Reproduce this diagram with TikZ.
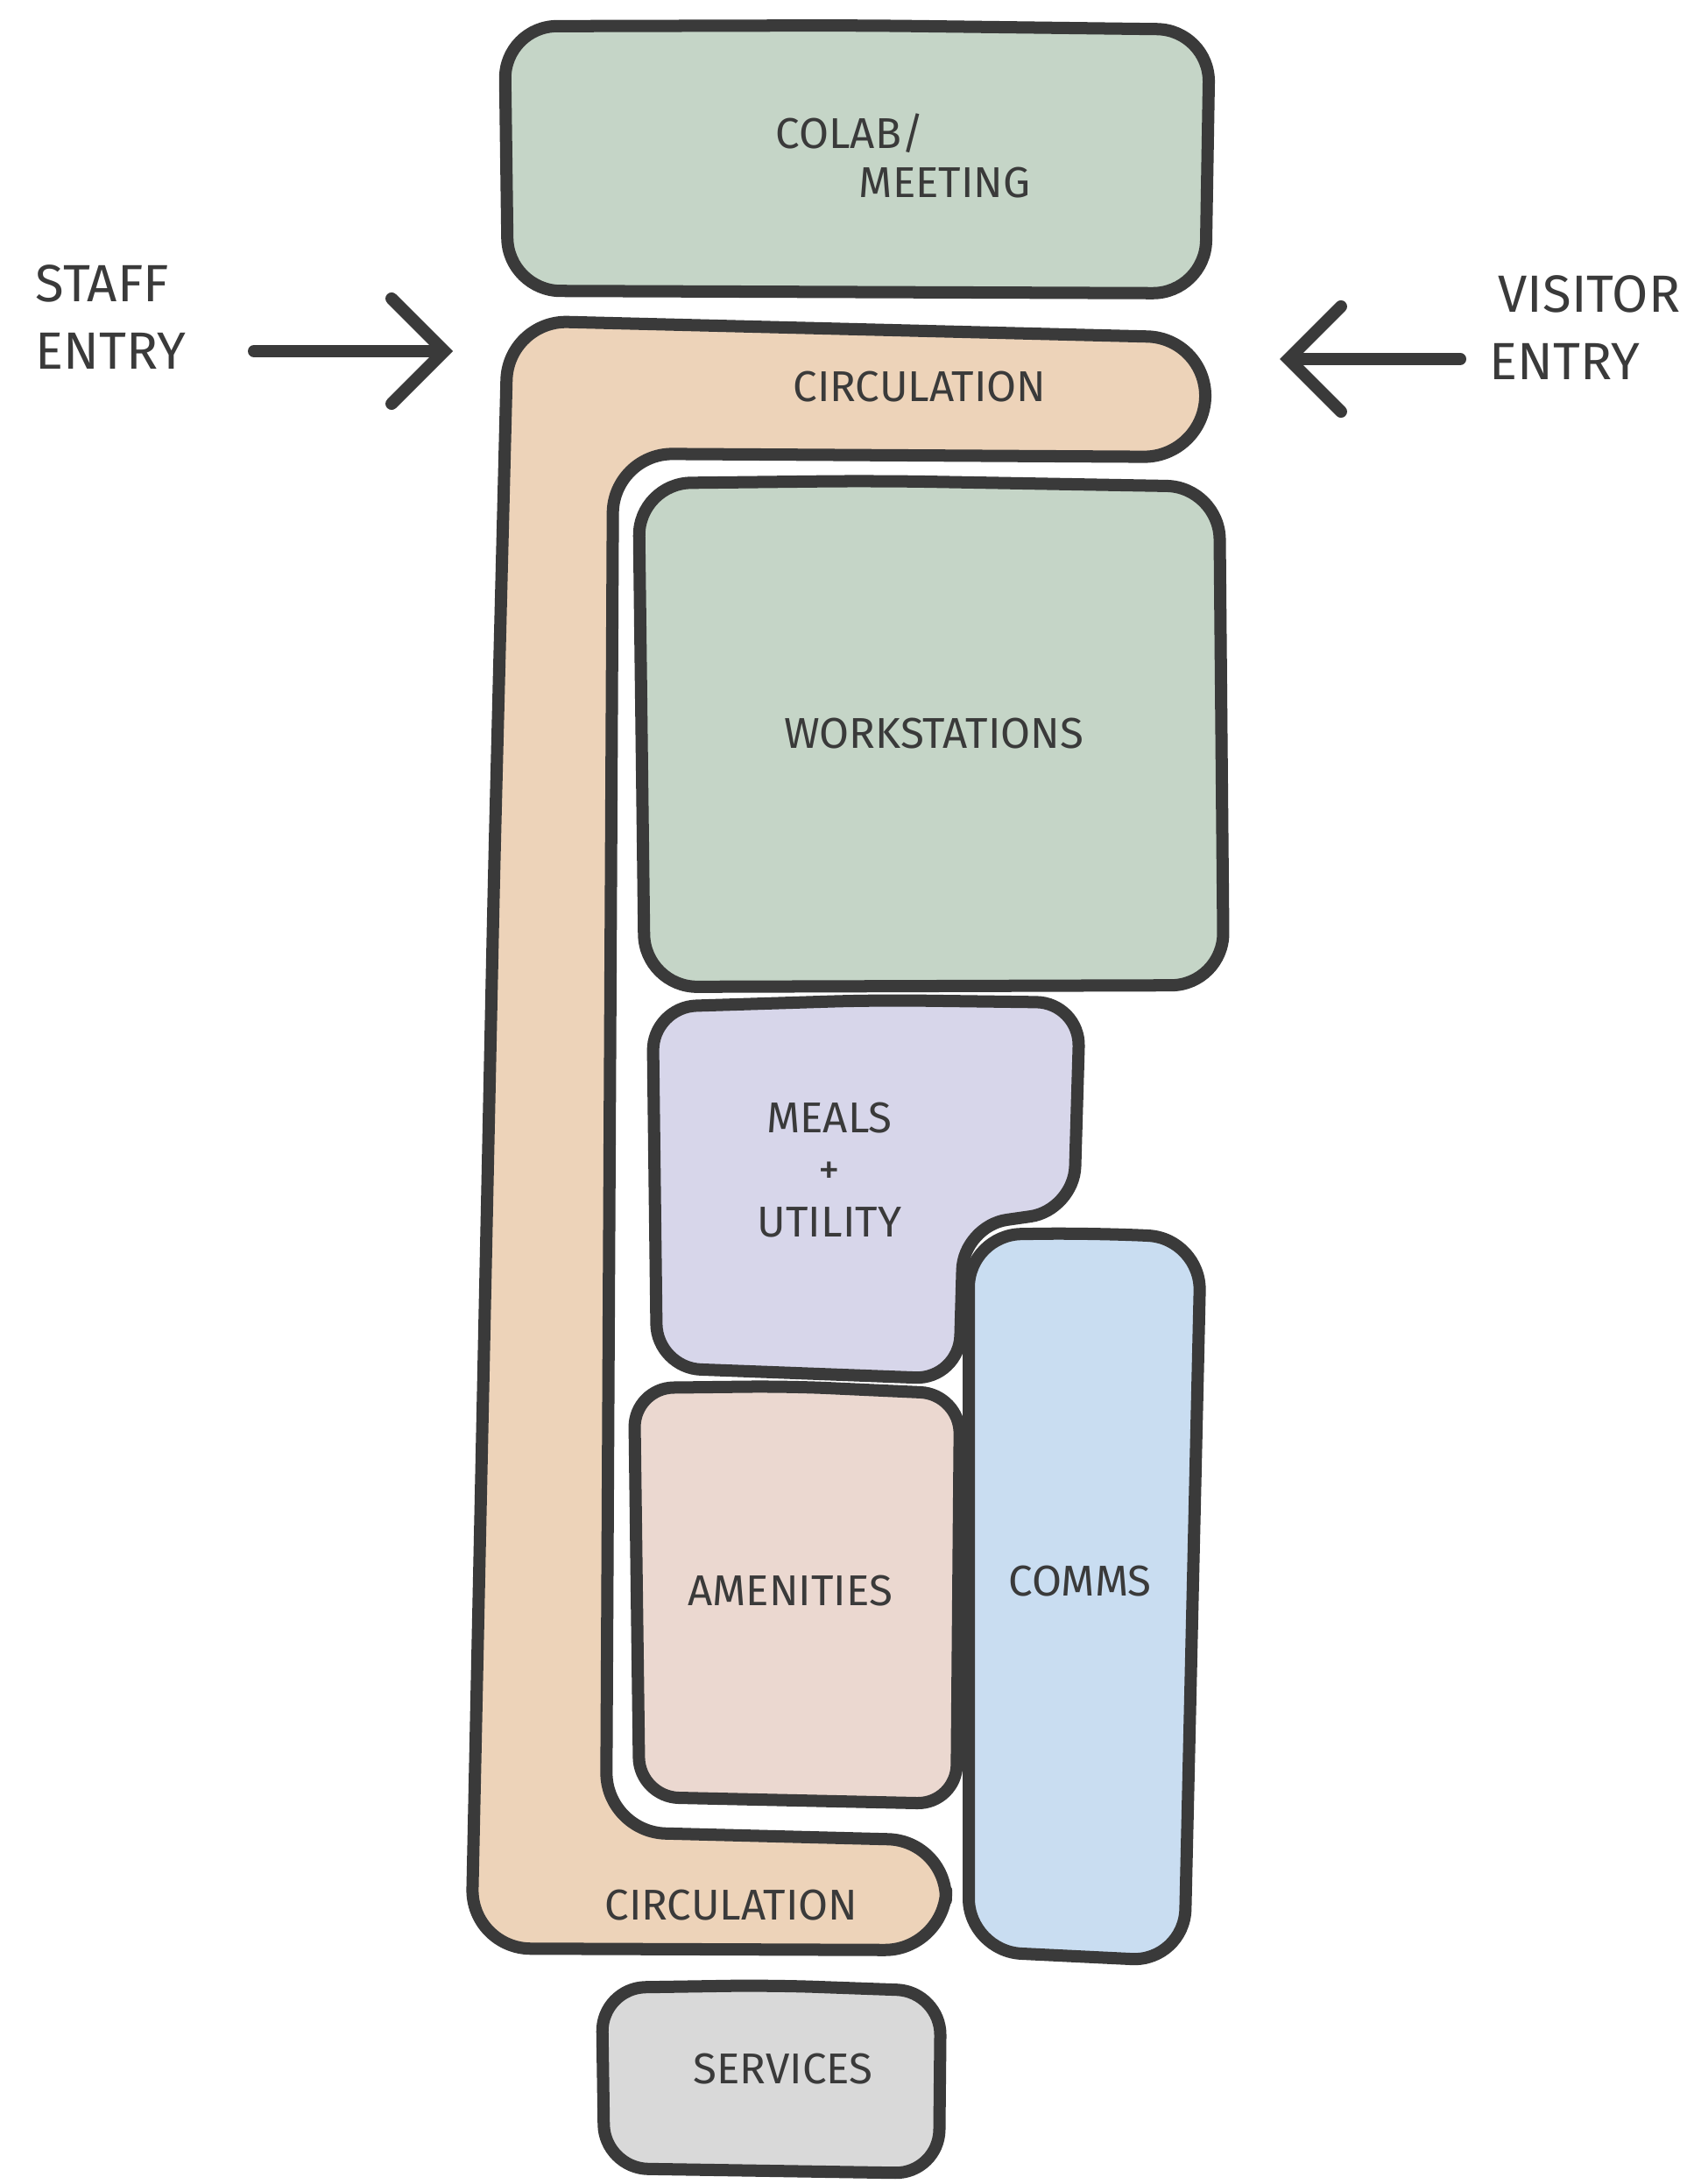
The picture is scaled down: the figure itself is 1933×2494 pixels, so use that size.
\documentclass[tikz,border=0pt]{standalone}
\usepackage{fontspec}
\setmainfont{Fira Sans}
\usetikzlibrary{arrows.meta,positioning}
\definecolor{Ink}{HTML}{3A3A3A}
\definecolor{Sage}{HTML}{C5D5C7}
\definecolor{Peach}{HTML}{EDD3B9}
\definecolor{Lilac}{HTML}{D7D6EA}
\definecolor{Sky}{HTML}{C9DDF1}
\definecolor{Blush}{HTML}{EBD8D0}
\definecolor{Stone}{HTML}{D9D9D9}
\tikzset{
 room/.style={draw=Ink, line width=0.14cm, line join=round, rounded corners=0.6cm},
 sageroom/.style={room, fill=Sage},
 circroom/.style={room, fill=Peach, rounded corners=0.68cm},
 lilacroom/.style={room, fill=Lilac, rounded corners=0.5cm},
 skyroom/.style={room, fill=Sky},
 blushroom/.style={room, fill=Blush, rounded corners=0.45cm},
 stoneroom/.style={room, fill=Stone, rounded corners=0.5cm},
 lbl/.style={text=Ink, align=center, inner sep=0pt, font=\fontsize{14}{16}\selectfont},
 entrylbl/.style={text=Ink, align=left, inner sep=0pt, font=\fontsize{17}{22}\selectfont},
 entryarrow/.style={draw=Ink, line width=0.14cm, line cap=round, -{Straight Barb[length=0.6cm,width=1.2cm,line cap=round]}}
}
\begin{document}
\begin{tikzpicture}[x=0.01cm,y=-0.01cm]
\useasboundingbox[fill=white] (0,0) rectangle (1933,2494);
\draw[sageroom] (980,29) -- (1381,34) -- (1376,335) -- (580,332) -- (576,30) -- cycle;
\draw[circroom] (564,1000) -- (580,366) -- (1378,386) -- (1374,522) -- (700,518) -- (692,2092) -- (1082,2102) -- (1078,2227) -- (538,2225) -- cycle;
\draw[sageroom] (1000,549) -- (1392,556) -- (1397,1125) -- (736,1127) -- (729,552) -- cycle;
\draw[lilacroom] (1000,1142) -- (1233,1145) -- (1226,1382) -- (1100,1400) -- (1095,1575) -- (750,1562) -- (745,1150) -- cycle;
\draw[skyroom] (1250,1408) -- (1371,1414) -- (1352,2240) -- (1106,2228) -- (1106,1410) -- cycle;
\draw[blushroom] (900,1583) -- (1096,1592) -- (1092,2060) -- (730,2052) -- (724,1585) -- cycle;
\draw[stoneroom] (880,2267) -- (1074,2274) -- (1072,2482) -- (690,2476) -- (687,2270) -- cycle;
\node[lbl, align=left] (colab) at (1031,178) {COLAB/\\\hspace*{0.95cm}MEETING};
\node[lbl] (circtop) at (1050,442) {CIRCULATION};
\node[lbl] (work) at (1066,838) {WORKSTATIONS};
\node[lbl, font=\fontsize{14}{17}\selectfont] (meals) at (947,1336) {MEALS\\+\\UTILITY};
\node[lbl] (amen) at (902,1817) {AMENITIES};
\node[lbl] (comms) at (1233,1806) {COMMS};
\node[lbl] (circbot) at (835,2176) {CIRCULATION};
\node[lbl] (serv) at (894,2363) {SERVICES};
\node[entrylbl, anchor=west] (staff) at (40,362) {STAFF\\ENTRY};
\node[entrylbl, anchor=west] (visitor) at (1700,374) {\hspace*{0.1cm}VISITOR\\ENTRY};
\coordinate (stafftail) at (290,401);
\coordinate (staffhead) at (517,401);
\coordinate (visitortail) at (1667,410);
\coordinate (visitorhead) at (1461,410);
\draw[entryarrow] (stafftail) -- (staffhead);
\draw[entryarrow] (visitortail) -- (visitorhead);
\end{tikzpicture}
\end{document}
